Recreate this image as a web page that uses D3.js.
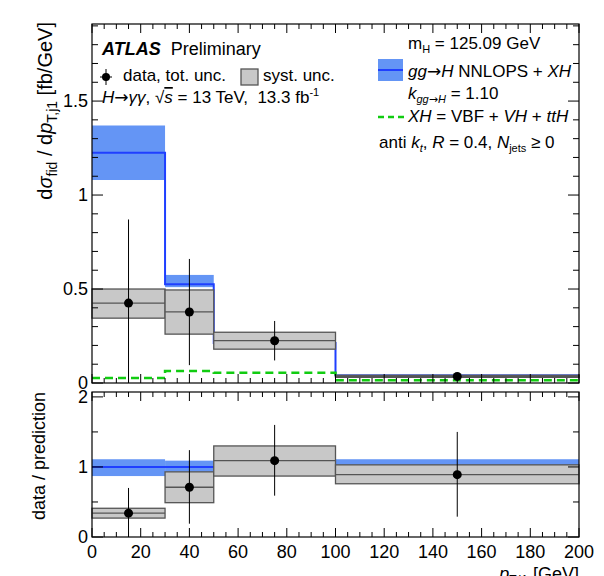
<!DOCTYPE html>
<html>
<head>
<meta charset="utf-8">
<script src="https://cdn.jsdelivr.net/npm/d3@7"></script>
<style>
body { margin: 0; background: #fff; }
text { font-family: "Liberation Sans", Arial, sans-serif; fill: #000; }
.arrow { font-family: "DejaVu Sans", sans-serif; }
</style>
</head>
<body>
<div id="chart"></div>
<script>
// bins in pT,j1 [GeV]
var binEdges = [0, 30, 50, 100, 200];
var binCenters = [15, 40, 75, 150];

// top panel: cross section [fb/GeV]
var dataVal = [0.425, 0.378, 0.225, 0.035];
var dataTotLo = [0.0, 0.095, 0.12, 0.026];
var dataTotHi = [0.87, 0.66, 0.33, 0.044];
var systLo = [0.345, 0.26, 0.18, 0.03];
var systHi = [0.50, 0.495, 0.27, 0.041];
var predVal = [1.225, 0.525, 0.213, 0.04];
var predLo = [1.08, 0.51, 0.2, 0.037];
var predHi = [1.37, 0.575, 0.23, 0.044];
var xhVal = [0.027, 0.064, 0.055, 0.015];

// bottom panel: data / prediction
var ratioVal = [0.34, 0.71, 1.09, 0.89];
var ratioTotLo = [0.0, 0.19, 0.59, 0.29];
var ratioTotHi = [0.70, 1.24, 1.60, 1.50];
var ratioSystLo = [0.27, 0.49, 0.87, 0.76];
var ratioSystHi = [0.41, 0.93, 1.30, 1.03];
var ratioPredLo = [0.87, 0.93, 0.90, 0.90];
var ratioPredHi = [1.11, 1.09, 1.10, 1.11];

var xTicks = [0, 20, 40, 60, 80, 100, 120, 140, 160, 180, 200];
var yTicksMain = [0, 0.5, 1, 1.5];
var yTicksRatio = [0, 1, 2];

var W = 604, H = 576;
var left = 92, right = 579;
var mainTop = 24, mainBottom = 383;
var ratioTop = 392, ratioBottom = 537;

var blueBand = '#6495f5', blueLine = '#1f3fff', green = '#11cc11';
var grayFill = '#c8c8c8', grayLine = '#555';

var svg = d3.select('#chart').append('svg')
    .attr('width', W)
    .attr('height', H);

var x = d3.scaleLinear().domain([0, 200]).range([left, right]);
var yMain = d3.scaleLinear().domain([0, 1.91]).range([mainBottom, mainTop]);
var yRatio = d3.scaleLinear().domain([0, 2.07]).range([ratioBottom, ratioTop]);

function range(a, b, step) {
    var out = [];
    for (var v = a; v <= b + 1e-9; v += step) out.push(+v.toFixed(6));
    return out;
}

// ticks inside the frame on all four sides, ROOT style
function drawFrame(g, y, yTop, yBot, majorY, minorY) {
    var majX = xTicks, minX = range(0, 200, 5);
    minX.forEach(function (v) {
        var len = majX.indexOf(v) >= 0 ? 9 : 5;
        g.append('line').attr('x1', x(v)).attr('x2', x(v))
            .attr('y1', yBot).attr('y2', yBot - len);
        g.append('line').attr('x1', x(v)).attr('x2', x(v))
            .attr('y1', yTop).attr('y2', yTop + len);
    });
    minorY.forEach(function (v) {
        var len = majorY.indexOf(v) >= 0 ? 11 : 6;
        g.append('line').attr('x1', left).attr('x2', left + len)
            .attr('y1', y(v)).attr('y2', y(v));
        g.append('line').attr('x1', right).attr('x2', right - len)
            .attr('y1', y(v)).attr('y2', y(v));
    });
    g.selectAll('line').attr('stroke', '#000').attr('stroke-width', 1);
    g.append('rect').attr('x', left).attr('y', yTop)
        .attr('width', right - left).attr('height', yBot - yTop)
        .attr('fill', 'none').attr('stroke', '#000').attr('stroke-width', 1.2);
}

function stepPoints(vals) {
    var pts = vals.map(function (v, i) { return [binEdges[i], v]; });
    pts.push([binEdges[binEdges.length - 1], vals[vals.length - 1]]);
    return pts;
}

function drawBoxes(g, y, lo, hi, mid) {
    binCenters.forEach(function (c, i) {
        g.append('rect')
            .attr('x', x(binEdges[i])).attr('y', y(hi[i]))
            .attr('width', x(binEdges[i + 1]) - x(binEdges[i]))
            .attr('height', y(lo[i]) - y(hi[i]))
            .attr('fill', grayFill).attr('stroke', grayLine).attr('stroke-width', 1.3);
        g.append('line')
            .attr('x1', x(binEdges[i])).attr('x2', x(binEdges[i + 1]))
            .attr('y1', y(mid[i])).attr('y2', y(mid[i]))
            .attr('stroke', grayLine).attr('stroke-width', 1.3);
    });
}

function drawPoints(g, y, val, lo, hi) {
    binCenters.forEach(function (c, i) {
        g.append('line')
            .attr('x1', x(c)).attr('x2', x(c))
            .attr('y1', y(lo[i])).attr('y2', y(hi[i]))
            .attr('stroke', '#000').attr('stroke-width', 1);
        g.append('circle')
            .attr('cx', x(c)).attr('cy', y(val[i])).attr('r', 4.5)
            .attr('fill', '#000');
    });
}

// ---------- main panel ----------
var gMain = svg.append('g');

binCenters.forEach(function (c, i) {
    gMain.append('rect')
        .attr('x', x(binEdges[i])).attr('y', yMain(predHi[i]))
        .attr('width', x(binEdges[i + 1]) - x(binEdges[i]))
        .attr('height', yMain(predLo[i]) - yMain(predHi[i]))
        .attr('fill', blueBand);
});

var stepLine = d3.line().curve(d3.curveStepAfter);

gMain.append('path')
    .attr('d', stepLine(stepPoints(predVal).map(function (p) { return [x(p[0]), yMain(p[1])]; })))
    .attr('fill', 'none').attr('stroke', blueLine).attr('stroke-width', 2);

gMain.append('path')
    .attr('d', stepLine(stepPoints(xhVal).map(function (p) { return [x(p[0]), yMain(p[1])]; })))
    .attr('fill', 'none').attr('stroke', green).attr('stroke-width', 2.5)
    .attr('stroke-dasharray', '8,5');

drawBoxes(gMain, yMain, systLo, systHi, dataVal);
drawPoints(gMain, yMain, dataVal, dataTotLo, dataTotHi);

drawFrame(svg.append('g'), yMain, mainTop, mainBottom, yTicksMain, range(0, 1.9, 0.1));

svg.append('g').selectAll('text')
    .data(yTicksMain).enter().append('text')
    .attr('x', left - 4).attr('y', function (d) { return yMain(d) + 6; })
    .attr('text-anchor', 'end').attr('font-size', 18)
    .text(function (d) { return d; });

// ---------- ratio panel ----------
var gRatio = svg.append('g');

binCenters.forEach(function (c, i) {
    gRatio.append('rect')
        .attr('x', x(binEdges[i])).attr('y', yRatio(ratioPredHi[i]))
        .attr('width', x(binEdges[i + 1]) - x(binEdges[i]))
        .attr('height', yRatio(ratioPredLo[i]) - yRatio(ratioPredHi[i]))
        .attr('fill', blueBand);
});
gRatio.append('line')
    .attr('x1', x(0)).attr('x2', x(200))
    .attr('y1', yRatio(1)).attr('y2', yRatio(1))
    .attr('stroke', blueLine).attr('stroke-width', 2);

drawBoxes(gRatio, yRatio, ratioSystLo, ratioSystHi, ratioVal);
drawPoints(gRatio, yRatio, ratioVal, ratioTotLo, ratioTotHi);

drawFrame(svg.append('g'), yRatio, ratioTop, ratioBottom, yTicksRatio, range(0, 2, 0.5));

svg.append('g').selectAll('text')
    .data(yTicksRatio).enter().append('text')
    .attr('x', left - 4).attr('y', function (d) { return yRatio(d) + 6; })
    .attr('text-anchor', 'end').attr('font-size', 18)
    .text(function (d) { return d; });

svg.append('g').selectAll('text')
    .data(xTicks).enter().append('text')
    .attr('x', function (d) { return x(d); }).attr('y', ratioBottom + 21)
    .attr('text-anchor', 'middle').attr('font-size', 18)
    .text(function (d) { return d; });

// ---------- axis titles ----------
var yt = svg.append('text')
    .attr('transform', 'translate(52,' + (mainTop - 2) + ') rotate(-90)')
    .attr('text-anchor', 'end').attr('font-size', 20);
yt.append('tspan').text('d');
yt.append('tspan').attr('font-style', 'italic').text('σ');
yt.append('tspan').attr('font-size', 14).attr('dy', 5).text('fid');
yt.append('tspan').attr('dy', -5).text(' / d');
yt.append('tspan').attr('font-style', 'italic').text('p');
yt.append('tspan').attr('font-size', 14).attr('dy', 5).text('T,j1');
yt.append('tspan').attr('dy', -5).text(' [fb/GeV]');

svg.append('text')
    .attr('transform', 'translate(45,' + ratioTop + ') rotate(-90)')
    .attr('text-anchor', 'end').attr('font-size', 18)
    .text('data / prediction');

var xt = svg.append('text')
    .attr('x', right).attr('y', 580)
    .attr('text-anchor', 'end').attr('font-size', 18);
xt.append('tspan').attr('font-style', 'italic').text('p');
xt.append('tspan').attr('font-size', 12).attr('dy', 4).text('T,j1');
xt.append('tspan').attr('dy', -4).text(' [GeV]');

// ---------- labels and legend ----------
var atl = svg.append('text').attr('x', 102).attr('y', 55).attr('font-size', 18);
atl.append('tspan').attr('font-weight', 'bold').attr('font-style', 'italic').text('ATLAS');
atl.append('tspan').text('\u00a0 Preliminary');

var leg = svg.append('g');
leg.append('line').attr('x1', 100).attr('x2', 112).attr('y1', 77).attr('y2', 77).attr('stroke', '#000');
leg.append('line').attr('x1', 106).attr('x2', 106).attr('y1', 69).attr('y2', 85).attr('stroke', '#000');
leg.append('circle').attr('cx', 106).attr('cy', 77).attr('r', 4).attr('fill', '#000');
leg.append('text').attr('x', 123).attr('y', 81).attr('font-size', 17).text('data, tot. unc.');
leg.append('rect').attr('x', 241).attr('y', 69).attr('width', 17).attr('height', 16)
    .attr('fill', grayFill).attr('stroke', grayLine).attr('stroke-width', 1.3);
leg.append('text').attr('x', 263).attr('y', 81).attr('font-size', 17).text('syst. unc.');

var hl = svg.append('text').attr('x', 102).attr('y', 103).attr('font-size', 17);
hl.append('tspan').attr('font-style', 'italic').text('H');
hl.append('tspan').attr('class', 'arrow').text('\u2192');
hl.append('tspan').attr('font-style', 'italic').text('γγ');
hl.append('tspan').text(', \u221a');
hl.append('tspan').attr('font-style', 'italic').attr('text-decoration', 'overline').text('s');
hl.append('tspan').text(' = 13 TeV,\u00a0 13.3 fb');
hl.append('tspan').attr('font-size', 11).attr('dy', -7).text('-1');

var mh = svg.append('text').attr('x', 408).attr('y', 49).attr('font-size', 17);
mh.append('tspan').text('m');
mh.append('tspan').attr('font-size', 11).attr('dy', 4).text('H');
mh.append('tspan').attr('dy', -4).text(' = 125.09 GeV');

leg.append('rect').attr('x', 378).attr('y', 59).attr('width', 25).attr('height', 22).attr('fill', blueBand);
leg.append('line').attr('x1', 378).attr('x2', 403).attr('y1', 70).attr('y2', 70)
    .attr('stroke', blueLine).attr('stroke-width', 2);
var gg = svg.append('text').attr('x', 408).attr('y', 77).attr('font-size', 17);
gg.append('tspan').attr('font-style', 'italic').text('gg');
gg.append('tspan').attr('class', 'arrow').text('\u2192');
gg.append('tspan').attr('font-style', 'italic').text('H');
gg.append('tspan').text(' NNLOPS + ');
gg.append('tspan').attr('font-style', 'italic').text('XH');

var kg = svg.append('text').attr('x', 408).attr('y', 99).attr('font-size', 17);
kg.append('tspan').attr('font-style', 'italic').text('k');
kg.append('tspan').attr('font-size', 11).attr('font-style', 'italic').attr('dy', 4).text('gg');
kg.append('tspan').attr('font-size', 11).attr('class', 'arrow').text('\u2192');
kg.append('tspan').attr('font-size', 11).attr('font-style', 'italic').text('H');
kg.append('tspan').attr('dy', -4).text(' = 1.10');

leg.append('line').attr('x1', 378).attr('x2', 404).attr('y1', 117).attr('y2', 117)
    .attr('stroke', green).attr('stroke-width', 2.5).attr('stroke-dasharray', '6,4');
var xh = svg.append('text').attr('x', 408).attr('y', 122).attr('font-size', 17);
xh.append('tspan').attr('font-style', 'italic').text('XH');
xh.append('tspan').text(' = VBF + ');
xh.append('tspan').attr('font-style', 'italic').text('VH');
xh.append('tspan').text(' + ');
xh.append('tspan').attr('font-style', 'italic').text('ttH');

var ak = svg.append('text').attr('x', 379).attr('y', 148).attr('font-size', 17);
ak.append('tspan').text('anti ');
ak.append('tspan').attr('font-style', 'italic').text('k');
ak.append('tspan').attr('font-size', 11).attr('font-style', 'italic').attr('dy', 4).text('t');
ak.append('tspan').attr('dy', -4).text(', ');
ak.append('tspan').attr('font-style', 'italic').text('R');
ak.append('tspan').text(' = 0.4, ');
ak.append('tspan').attr('font-style', 'italic').text('N');
ak.append('tspan').attr('font-size', 11).attr('dy', 4).text('jets');
ak.append('tspan').attr('dy', -4).text(' \u2265 0');
</script>
</body>
</html>
